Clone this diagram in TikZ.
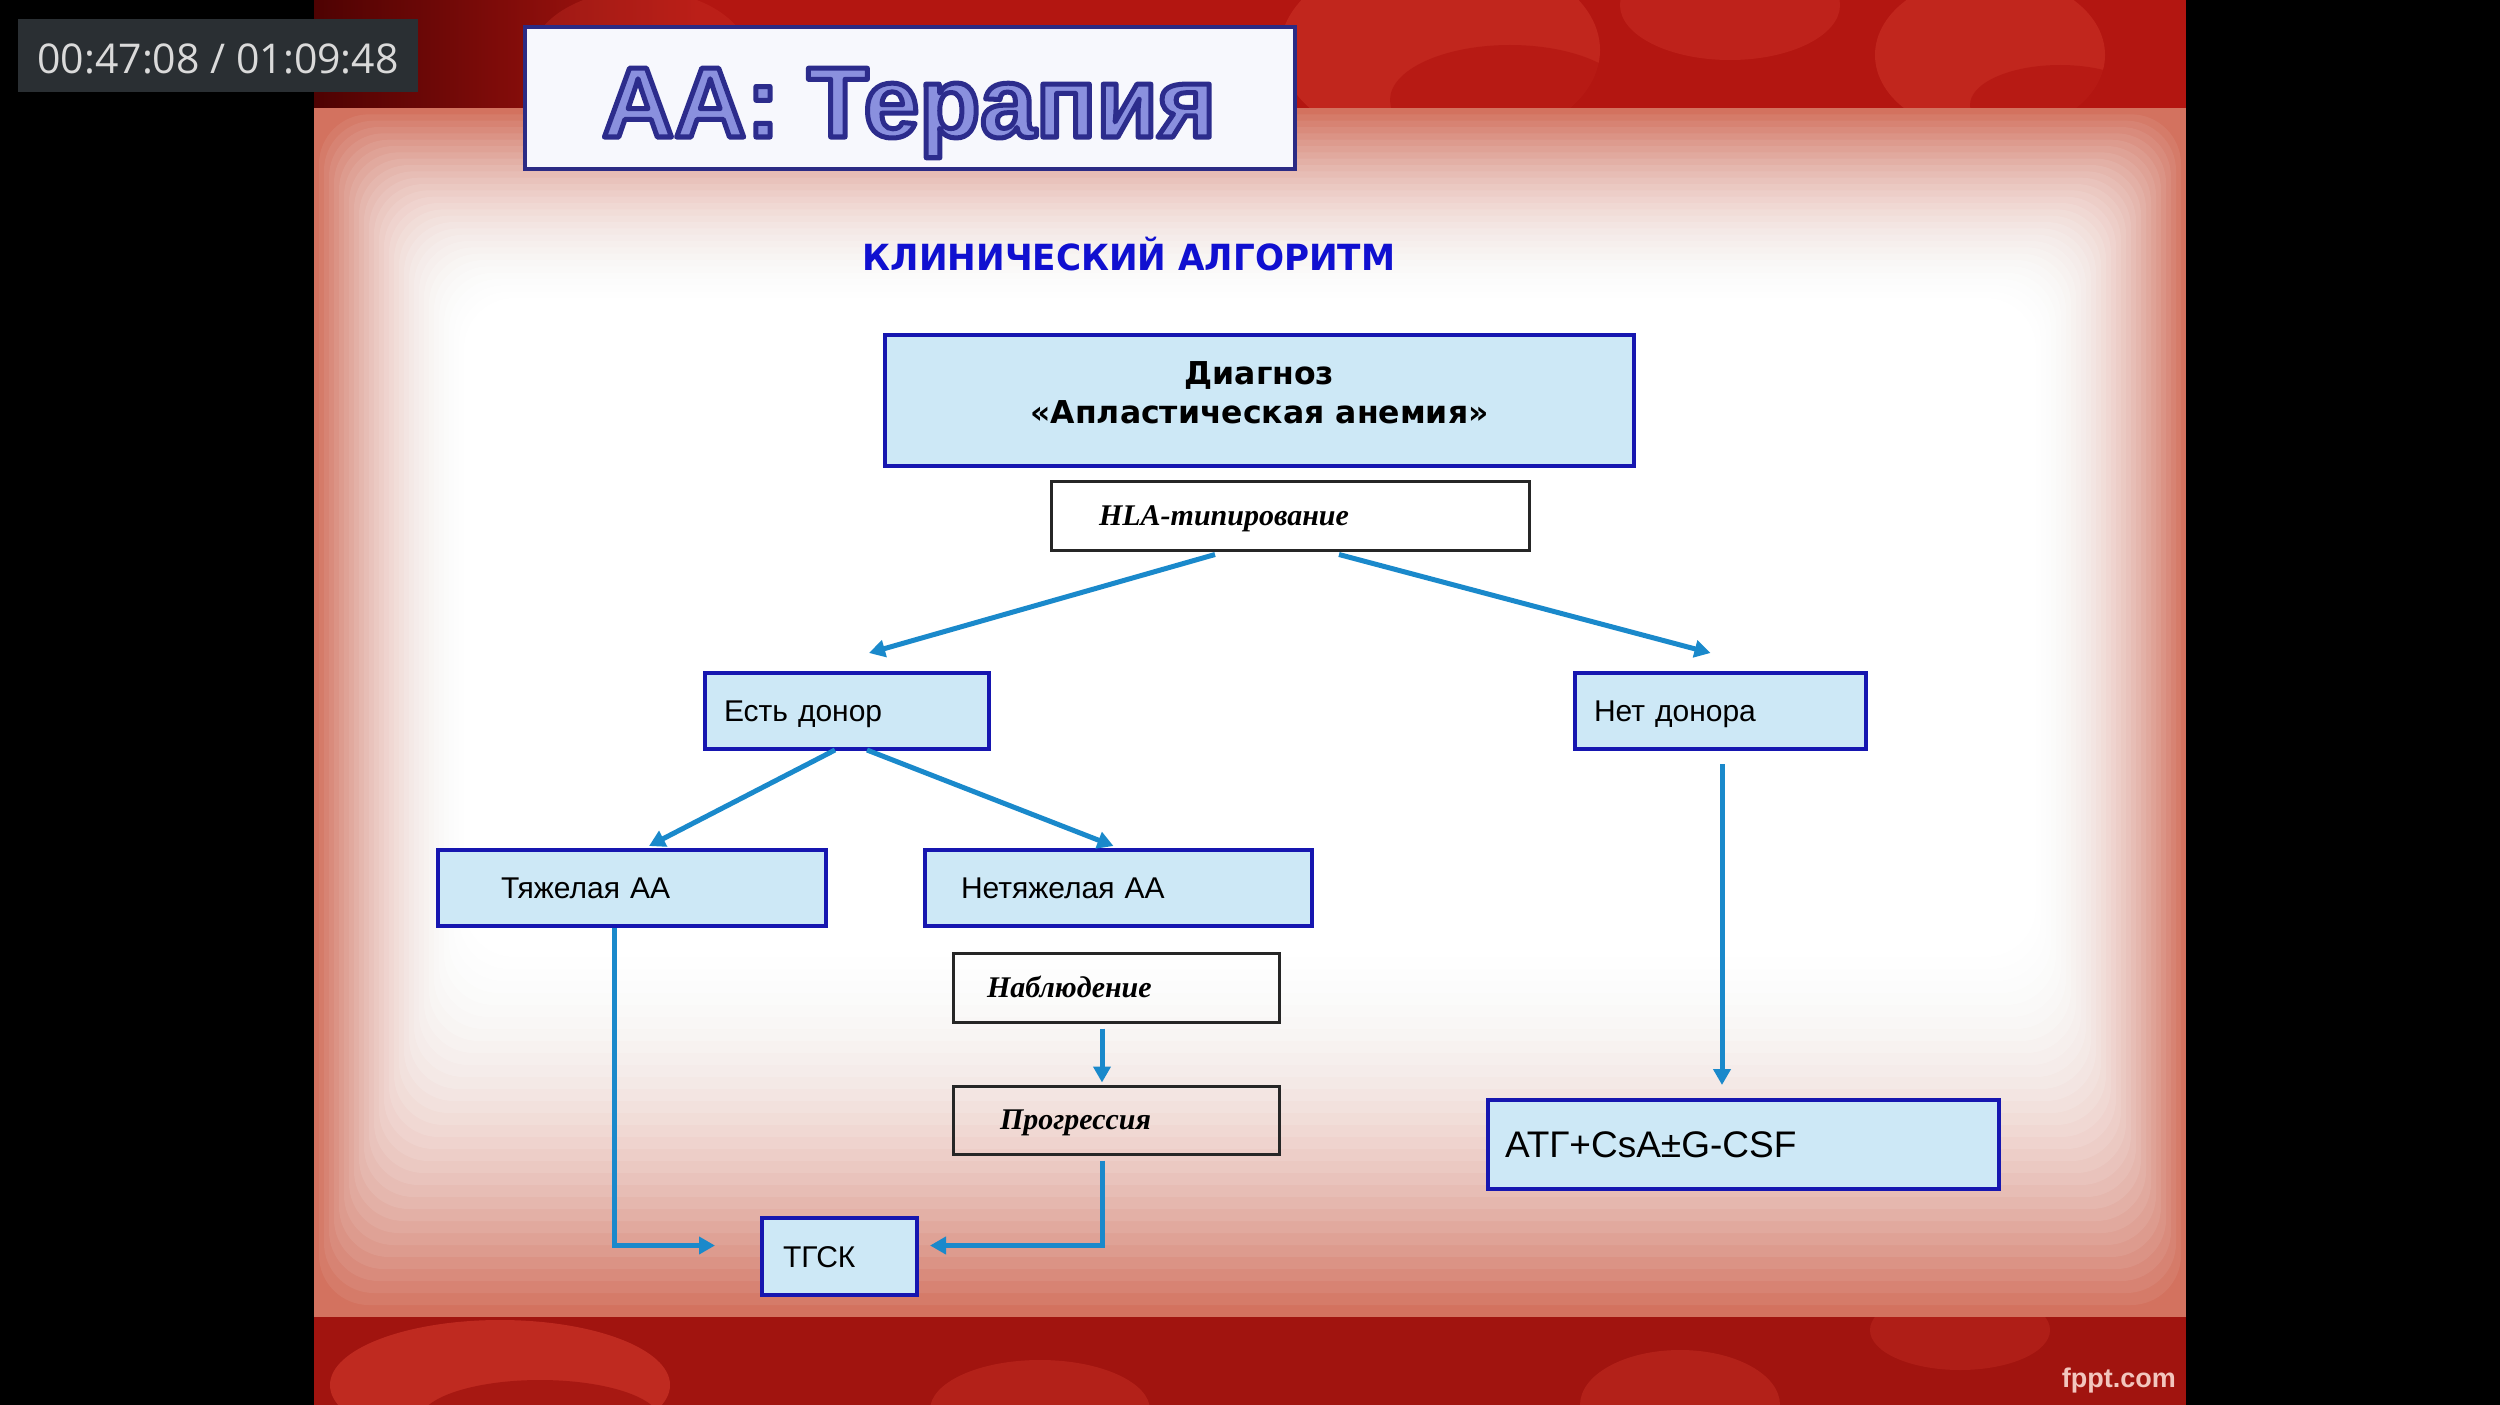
\documentclass[tikz,border=0pt]{standalone}
\usepackage{fontspec}
\setmainfont{Liberation Sans}
\newfontfamily\timerfont{Open Sans}
\newfontfamily\titlefont{Liberation Sans}
\newfontfamily\headfont{DejaVu Sans}[FakeStretch=0.95]
\newfontfamily\diagfont{DejaVu Sans}
\newfontfamily\serfont{Liberation Serif}
\usetikzlibrary{arrows.meta,calc}
\definecolor{timerbg}{HTML}{2A2F33}
\definecolor{timertext}{HTML}{DADADA}
\definecolor{bandred}{HTML}{B31611}
\definecolor{banddark}{HTML}{4E0202}
\definecolor{blob}{HTML}{D0362A}
\definecolor{panelbase}{HTML}{D3725F}
\definecolor{titlebg}{HTML}{F7F8FD}
\definecolor{titleline}{HTML}{2B2B84}
\definecolor{tfill}{HTML}{8A90DE}
\definecolor{headblue}{HTML}{1010D0}
\definecolor{boxblue}{HTML}{1616B0}
\definecolor{boxfill}{HTML}{CDE8F6}
\definecolor{arrowblue}{HTML}{1A89CB}
\definecolor{fpptcol}{HTML}{F2C6BE}
\newcommand\outlinetext[1]{{\color{tfill}\special{pdf:literal direct 2 Tr 5 w 1 j 0.173 0.173 0.549 RG}#1\special{pdf:literal direct 0 Tr 1 w}}}
\tikzset{
  bluebox/.style={draw=boxblue, line width=4pt, fill=boxfill, minimum height=76pt, inner ysep=0pt, align=left, text=black, text height=21.5pt, text depth=0pt, font=\fontsize{30}{34}\selectfont},
  plainbox/.style={draw=black!85, line width=3pt, minimum height=69pt, inner ysep=0pt, align=left, text=black, text height=19.5pt, text depth=0pt, font=\serfont\bfseries\itshape\fontsize{30}{34}\selectfont},
  conn/.style={draw=arrowblue, line width=5pt, -{Triangle[length=16pt,width=17pt]}},
}
\begin{document}
\begin{tikzpicture}[x=1pt,y=-1pt]
\useasboundingbox (0,0) rectangle (2500,1405);
\fill[black] (0,0) rectangle (2500,1405);
% top band
\fill[bandred] (314,0) rectangle (2186,108);
\shade[left color=banddark, right color=bandred] (314,0) rectangle (700,108);
\begin{scope}
\clip (314,0) rectangle (2186,108);
\fill[blob, opacity=.5] (1440,50) ellipse (160 and 100);
\fill[bandred, opacity=.7] (1510,100) ellipse (120 and 55);
\fill[blob, opacity=.4] (1730,5) ellipse (110 and 55);
\fill[blob, opacity=.5] (1990,55) ellipse (115 and 80);
\fill[bandred, opacity=.7] (2060,105) ellipse (90 and 40);
\fill[blob, opacity=.3] (640,60) ellipse (110 and 70);
\end{scope}
% bottom band
\fill[bandred!90!black] (314,1317) rectangle (2186,1405);
\begin{scope}
\clip (314,1317) rectangle (2186,1405);
\fill[blob, opacity=.65] (500,1385) ellipse (170 and 65);
\fill[bandred!90!black, opacity=.8] (540,1420) ellipse (120 and 40);
\fill[blob, opacity=.4] (1040,1410) ellipse (110 and 50);
\fill[blob, opacity=.4] (1680,1405) ellipse (100 and 55);
\fill[blob, opacity=.3] (1960,1330) ellipse (90 and 40);
\end{scope}
% panel with soft white centre
\fill[panelbase] (314,108) rectangle (2186,1317);
\foreach \i in {1,...,30}{
  \pgfmathsetmacro\op{1-((30-\i)/(31-\i))^2}
  \fill[white, opacity=\op, rounded corners=50pt] ({314+5*\i},{108+6.3333*\i}) rectangle ({2186-5*\i},{1317-12*\i});
}
% timer
\node[fill=timerbg, minimum width=400pt, minimum height=73pt, inner sep=0pt, text=timertext, text height=36pt, text depth=0pt, font=\timerfont\fontsize{41}{41}\selectfont] (timer) at (218,55.5) {00:47:08 / 01:09:48};
% title
\node[draw=titleline, line width=4pt, fill=titlebg, minimum width=770pt, minimum height=142pt] (titlebox) at (910,98) {};
\node[anchor=base, inner sep=0pt, font=\titlefont\bfseries\fontsize{100}{104}\selectfont] (title) at (909,137) {\outlinetext{АА: Терапия}};
\node[anchor=base, inner sep=0pt, text=headblue, font=\headfont\bfseries\fontsize{36}{40}\selectfont] (head) at (1129,270) {КЛИНИЧЕСКИЙ АЛГОРИТМ};
% boxes
\node[bluebox, minimum width=749pt, minimum height=131pt, align=center, text height=, text depth=, font=\diagfont\bfseries\fontsize{31.5}{38.5}\selectfont] (diag) at (1259.5,400.5) {Диагноз\\«Апластическая анемия»\rule[-16pt]{0pt}{1pt}};
\node[plainbox, text width=382pt, inner xsep=48pt] (hla) at (1290,515.5) {HLA-типирование};
\node[bluebox, text width=246pt, inner xsep=19pt] (yes) at (847,711) {Есть донор};
\node[bluebox, text width=253pt, inner xsep=19pt] (no) at (1720.5,711) {Нет донора};
\node[bluebox, text width=262pt, inner xsep=63pt] (heavy) at (632,888) {Тяжелая АА};
\node[bluebox, text width=315pt, inner xsep=36pt] (light) at (1118.5,888) {Нетяжелая АА};
\node[plainbox, text width=258pt, inner xsep=34pt] (obs) at (1116,987.5) {Наблюдение};
\node[plainbox, minimum height=68pt, text width=232pt, inner xsep=47pt] (prog) at (1116,1120) {Прогрессия};
\node[bluebox, minimum height=77pt, text width=113pt, inner xsep=21pt] (tgsk) at (839.5,1256.5) {ТГСК};
\node[bluebox, minimum height=89pt, text width=477pt, inner xsep=17pt, text height=26.5pt, font=\fontsize{37}{41}\selectfont] (atg) at (1743.5,1144.5) {АТГ+CsA±G-CSF};
% connectors
\draw[conn] ($(hla.south)+(-75,3)$) -- ($(yes.north)+(22,-18)$);
\draw[conn] ($(hla.south)+(49,3)$) -- ($(no.north)+(-10,-18)$);
\draw[conn] ($(yes.south)+(-12,-1)$) -- ($(heavy.north)+(17,-2)$);
\draw[conn] ($(yes.south)+(20,-1)$) -- ($(light.north)+(-5,-2)$);
\draw[conn] ($(heavy.south)+(-18,0)$) |- ($(tgsk.west)+(-45,-11)$);
\draw[conn] ($(obs.south)+(-14,5)$) -- ($(prog.north)+(-14,-2)$);
\draw[conn] ($(prog.south)+(-14,5)$) |- ($(tgsk.east)+(11,-11)$);
\draw[conn] ($(no.south)+(1.5,13)$) -- ($(atg.north)+(-21.5,-13)$);
% footer
\node[anchor=base east, inner sep=0pt, text=fpptcol, font=\bfseries\fontsize{27}{30}\selectfont] (fppt) at (2176,1387) {fppt.com};
\end{tikzpicture}
\end{document}
